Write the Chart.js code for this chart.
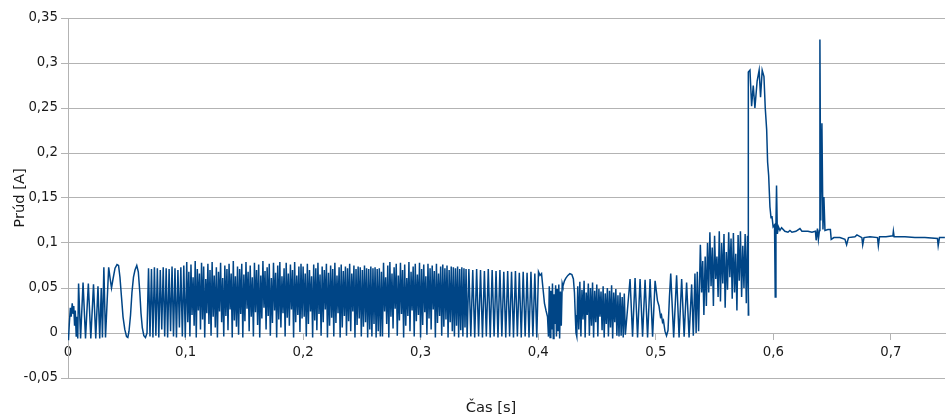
<!DOCTYPE html>
<html>
<head>
<meta charset="utf-8">
<script src="https://cdn.jsdelivr.net/npm/chart.js@4/dist/chart.umd.min.js"></script>
<style>
  html, body { margin: 0; padding: 0; background: #fff; }
  #wrap { width: 946px; height: 418px; }
</style>
</head>
<body>
<div id="wrap"><canvas id="c" width="946" height="418"></canvas></div>
<script>
// --- data: time [s] and current [A] ---

// start-up section: ringing and two slow humps (explicit samples)
const startTimes = [0.0000, 0.0004, 0.0011, 0.0020, 0.0027, 0.0036, 0.0043, 0.0049, 0.0056, 0.0062,
  0.0070, 0.0077, 0.0083, 0.0090, 0.0107, 0.0128, 0.0149, 0.0173, 0.0194, 0.0217,
  0.0236, 0.0255, 0.0270, 0.0283, 0.0293, 0.0305, 0.0319, 0.0346, 0.0359, 0.0370,
  0.0383, 0.0400, 0.0417, 0.0430, 0.0442, 0.0455, 0.0468, 0.0483, 0.0498, 0.0509,
  0.0519, 0.0532, 0.0544, 0.0557, 0.0570, 0.0585, 0.0598, 0.0611, 0.0621, 0.0632,
  0.0645, 0.0659, 0.0672];
const startCurrents = [0.0, -0.008, 0.010, 0.028, 0.018, 0.033, 0.022, 0.030, 0.008, 0.025,
  -0.004, 0.018, -0.006, 0.055, -0.006, 0.056, -0.006, 0.055, -0.006, 0.054,
  -0.006, 0.052, -0.006, 0.050, -0.005, 0.073, -0.005, 0.073, 0.060, 0.050,
  0.060, 0.072, 0.076, 0.075, 0.062, 0.040, 0.018, 0.004, -0.004, -0.005,
  0.002, 0.020, 0.045, 0.062, 0.070, 0.075, 0.068, 0.045, 0.022, 0.006,
  -0.003, -0.005, 0.0];

// first, clearer part of the switching section
const openStart = 0.0685;
const openStep = 0.00125;
const dense1 = [0.072,-0.004, 0.071,-0.005, 0.073,-0.003, 0.072,-0.005, 0.070,0.004, 0.073,-0.004, 0.072,-0.005,
  0.071,0.002, 0.074,-0.004, 0.072,-0.005, 0.070,0.006, 0.073,-0.004, 0.075,-0.005];

// long dense switching section, evenly sampled
const denseStart = 0.1010;
const denseStep = 0.0009;
const dense2 = [0.079,0.012, 0.068,-0.004, 0.076,0.020, 0.062,0.008, 0.080,-0.005, 0.071,0.025, 0.066,0.004,
  0.078,0.015, 0.074,-0.005, 0.060,0.022, 0.077,0.010, 0.070,-0.003, 0.079,0.018, 0.064,0.006, 0.073,-0.005,
  0.068,0.024, 0.078,0.012, 0.061,-0.004, 0.075,0.019, 0.071,0.003, 0.077,0.026, 0.066,-0.005, 0.080,0.014,
  0.063,0.007, 0.074,-0.002];
const dense3 = [0.071,0.021, 0.077,-0.005, 0.065,0.013, 0.079,0.027, 0.068,0.002, 0.075,0.018, 0.062,-0.004,
  0.078,0.023, 0.070,0.009, 0.076,-0.005, 0.064,0.016, 0.080,0.028, 0.069,0.004, 0.073,0.019, 0.077,-0.003,
  0.061,0.011, 0.078,0.025, 0.067,-0.005, 0.075,0.015, 0.079,0.006, 0.063,0.022, 0.072,-0.004, 0.078,0.017,
  0.066,0.008, 0.076,0.026, 0.070,-0.005, 0.079,0.012, 0.064,0.020, 0.074,0.001, 0.077,0.016];
const dense4 = [0.074,0.018, 0.066,-0.004, 0.077,0.010, 0.070,0.024, 0.063,-0.005, 0.076,0.014, 0.072,0.003,
  0.078,0.021, 0.065,-0.003, 0.074,0.012, 0.070,0.026, 0.077,-0.005, 0.067,0.008, 0.075,0.017, 0.071,-0.004,
  0.078,0.011, 0.064,0.022, 0.073,-0.005, 0.076,0.006, 0.069,0.019, 0.074,-0.003, 0.072,0.013, 0.077,0.002,
  0.066,0.024, 0.075,-0.005, 0.071,0.009, 0.074,0.016, 0.073,-0.004, 0.070,0.007, 0.075,0.012, 0.072,-0.005,
  0.071,0.004, 0.074,-0.004, 0.072,0.010, 0.073,-0.005, 0.071,0.002, 0.072,-0.004];
const dense5 = [0.068,-0.004, 0.078,0.024, 0.062,0.010, 0.075,-0.005, 0.079,0.018, 0.066,0.005, 0.073,0.027,
  0.077,-0.003, 0.064,0.014, 0.078,0.021, 0.070,-0.005, 0.076,0.008, 0.061,0.019, 0.079,0.002, 0.068,0.025,
  0.074,-0.004, 0.077,0.013, 0.065,0.020, 0.078,-0.005, 0.071,0.009, 0.076,0.023, 0.063,-0.002, 0.077,0.016,
  0.072,0.004, 0.075,0.026, 0.069,-0.005, 0.077,0.011, 0.066,0.019, 0.074,-0.003, 0.076,0.007, 0.072,0.015,
  0.075,-0.005, 0.070,0.012, 0.074,0.002, 0.073,-0.004, 0.072,0.008, 0.074,-0.005, 0.071,0.003, 0.073,-0.004,
  0.072,0.006, 0.071,-0.005];

// regular switching just before 0,4 s
const regularStart = 0.3410;
const regularStep = 0.00165;
const regular = [0.071,-0.004, 0.070,-0.005, 0.071,-0.004, 0.070,-0.005, 0.069,-0.004, 0.071,-0.005,
  0.070,-0.004, 0.069,-0.005, 0.070,-0.004, 0.068,-0.005, 0.069,-0.004, 0.068,-0.005, 0.069,-0.004,
  0.067,-0.005, 0.068,-0.004, 0.067,-0.005, 0.068,-0.004, 0.066,-0.005];

// 0,40 - 0,43 s: hump, dense burst, hump
const midTimes = [0.4002, 0.4015, 0.4028, 0.4040, 0.4053, 0.4066, 0.4079, 0.4087,
  0.4094, 0.4101, 0.4107, 0.4114, 0.4121, 0.4128, 0.4134, 0.4141, 0.4148, 0.4155,
  0.4161, 0.4168, 0.4175, 0.4182, 0.4189, 0.4196, 0.4204,
  0.4210, 0.4223, 0.4235, 0.4252, 0.4269, 0.4286, 0.4299, 0.4308, 0.4315, 0.4321, 0.4328];
const midCurrents = [0.068, 0.064, 0.066, 0.050, 0.033, 0.025, 0.018, -0.004,
  0.052, -0.005, 0.047, 0.004, 0.055, -0.006, 0.043, 0.010, 0.053, -0.004,
  0.049, 0.002, 0.054, -0.006, 0.046, 0.008, 0.055,
  0.052, 0.058, 0.061, 0.064, 0.066, 0.065, 0.060, 0.045, 0.020, 0.000, -0.004];

// 0,433 - 0,475 s, evenly sampled
const burstStart = 0.4336;
const burstStep = 0.0009;
const burst = [0.052,0.004, 0.057,-0.004, 0.048,0.015, 0.058,-0.005, 0.045,0.020, 0.055,-0.003, 0.050,0.008,
  0.056,-0.005, 0.047,0.012, 0.054,-0.004, 0.049,0.018,
  0.046,0.003, 0.052,-0.005, 0.044,0.010, 0.050,-0.004, 0.047,0.006, 0.053,-0.006, 0.045,0.012, 0.049,-0.003,
  0.042,-0.004, 0.045,-0.003, 0.040,-0.005, 0.044,-0.002];

// 0,478 - 0,50 s, regular
const evenStart = 0.4781;
const evenStep = 0.00213;
const even = [0.060,-0.004, 0.061,-0.005, 0.060,-0.004, 0.059,-0.005, 0.060,-0.004, 0.058];

// 0,50 - 0,544 s
const preTimes = [0.5006, 0.5014, 0.5027, 0.5040, 0.5048, 0.5057, 0.5065, 0.5078, 0.5091, 0.5104,
  0.5116, 0.5127, 0.5152, 0.5177, 0.5198, 0.5220, 0.5241, 0.5262, 0.5283, 0.5305,
  0.5319, 0.5333, 0.5343, 0.5353, 0.5364, 0.5379, 0.5390, 0.5399, 0.5409, 0.5420,
  0.5430, 0.5440];
const preCurrents = [0.045, 0.036, 0.030, 0.018, 0.020, 0.012, 0.014, 0.002, -0.003, 0.003,
  0.040, 0.066, -0.005, 0.064, -0.005, 0.060, -0.004, 0.056, -0.005, 0.054,
  -0.003, 0.066, 0.000, 0.068, 0.002, 0.098, 0.045, 0.080, 0.020, 0.085,
  0.030, 0.100];

// 0,544 - 0,578 s raised switching, evenly sampled
const highStart = 0.5450;
const highStep = 0.001;
const high = [0.045,0.112, 0.052,0.095, 0.030,0.108, 0.060,0.085, 0.040,0.113, 0.035,0.100, 0.055,0.110,
  0.028,0.090, 0.048,0.112, 0.062,0.105, 0.038,0.111, 0.045,0.088, 0.025,0.109, 0.058,0.113,
  0.040,0.097, 0.050,0.110, 0.033,0.108, 0.020];

// step up, decay and the steady tail
const tailTimes = [0.5787, 0.5801, 0.5815, 0.5829, 0.5843, 0.5862, 0.5879, 0.5891, 0.5905, 0.5920,
  0.5931, 0.5943, 0.5951, 0.5960, 0.5971, 0.5980, 0.5988, 0.5998, 0.6010, 0.6016,
  0.6022, 0.6027, 0.6034, 0.6043, 0.6056, 0.6070, 0.6098, 0.6124, 0.6141, 0.6158,
  0.6192, 0.6226, 0.6243, 0.6294, 0.6328, 0.6358, 0.6364, 0.6375, 0.6383, 0.6392,
  0.6396, 0.6403, 0.6413, 0.6422, 0.6430, 0.6439, 0.6464, 0.6485, 0.6492, 0.6515,
  0.6566, 0.6609, 0.6623, 0.6639, 0.6694, 0.6711, 0.6753, 0.6760, 0.6771, 0.6822,
  0.6886, 0.6893, 0.6903, 0.6958, 0.7017, 0.7021, 0.7027, 0.7119, 0.7204, 0.7289,
  0.7396, 0.7402, 0.7413, 0.7459];
const tailCurrents = [0.290, 0.292, 0.252, 0.275, 0.250, 0.280, 0.292, 0.262, 0.292, 0.285,
  0.250, 0.226, 0.190, 0.175, 0.140, 0.128, 0.130, 0.118, 0.120, 0.040,
  0.120, 0.164, 0.110, 0.118, 0.114, 0.117, 0.113, 0.112, 0.114, 0.112,
  0.113, 0.116, 0.113, 0.113, 0.112, 0.113, 0.103, 0.116, 0.104, 0.114,
  0.326, 0.125, 0.233, 0.115, 0.151, 0.114, 0.115, 0.115, 0.104, 0.106,
  0.106, 0.104, 0.098, 0.106, 0.107, 0.109, 0.106, 0.098, 0.106, 0.107,
  0.106, 0.097, 0.107, 0.107, 0.108, 0.113, 0.107, 0.107, 0.106, 0.106,
  0.105, 0.097, 0.106, 0.106];

const yTicks = [-0.05, 0, 0.05, 0.1, 0.15, 0.2, 0.25, 0.3, 0.35];
const xTitle = 'Čas [s]';
const yTitle = 'Prúd [A]';

// --- build the point list ---
function pairs(ts, vs) { return ts.map((t, i) => ({ x: t, y: vs[i] })); }
function sampled(t0, dt, vs) { return vs.map((v, i) => ({ x: +(t0 + i * dt).toFixed(5), y: v })); }

const points = [].concat(
  pairs(startTimes, startCurrents),
  sampled(openStart, openStep, dense1),
  sampled(denseStart, denseStep, [].concat(dense2, dense3, dense4, dense5)),
  sampled(regularStart, regularStep, regular),
  pairs(midTimes, midCurrents),
  sampled(burstStart, burstStep, burst),
  sampled(evenStart, evenStep, even),
  pairs(preTimes, preCurrents),
  sampled(highStart, highStep, high),
  pairs(tailTimes, tailCurrents)
);

const comma = v => String(parseFloat(v.toFixed(2))).replace('.', ',');
const GRID = '#b3b3b3';
const TEXT = '#1a1a1a';
const FONT = 'DejaVu Sans';

const xTitlePlugin = {
  id: 'xTitle',
  afterDraw(chart) {
    const ctx = chart.ctx;
    ctx.save();
    ctx.font = '14.7px "' + FONT + '"';
    ctx.fillStyle = TEXT;
    ctx.textAlign = 'center';
    ctx.textBaseline = 'middle';
    ctx.fillText(xTitle, 491, 408);
    ctx.restore();
  }
};

new Chart(document.getElementById('c'), {
  type: 'line',
  data: {
    datasets: [{
      data: points,
      borderColor: '#004586',
      borderWidth: 1.5,
      pointRadius: 0,
      tension: 0,
      fill: false
    }]
  },
  options: {
    responsive: false,
    animation: false,
    parsing: false,
    layout: { padding: { top: 18, right: 1, bottom: 40, left: 0 } },
    plugins: { legend: { display: false }, tooltip: { enabled: false } },
    scales: {
      x: {
        type: 'linear',
        position: { y: 0 },
        min: 0,
        max: 0.746,
        grid: { drawOnChartArea: false, drawTicks: true, tickLength: 6, color: GRID },
        border: { display: true, color: GRID },
        ticks: { stepSize: 0.1, includeBounds: false, padding: 6, color: TEXT,
          font: { family: FONT, size: 13.3 }, maxRotation: 0, callback: v => comma(v) }
      },
      y: {
        min: -0.05,
        max: 0.35,
        afterFit: s => { s.width = 68; },
        afterBuildTicks: s => { s.ticks = yTicks.map(v => ({ value: v })); },
        grid: { color: GRID, tickLength: 7 },
        border: { display: true, color: GRID },
        ticks: { padding: 3, color: TEXT, font: { family: FONT, size: 13.3 }, callback: v => comma(v) },
        title: { display: true, text: yTitle, color: TEXT, padding: { top: 11, bottom: 0 },
          font: { family: FONT, size: 14.7 } }
      }
    }
  },
  plugins: [xTitlePlugin]
});
</script>
</body>
</html>
